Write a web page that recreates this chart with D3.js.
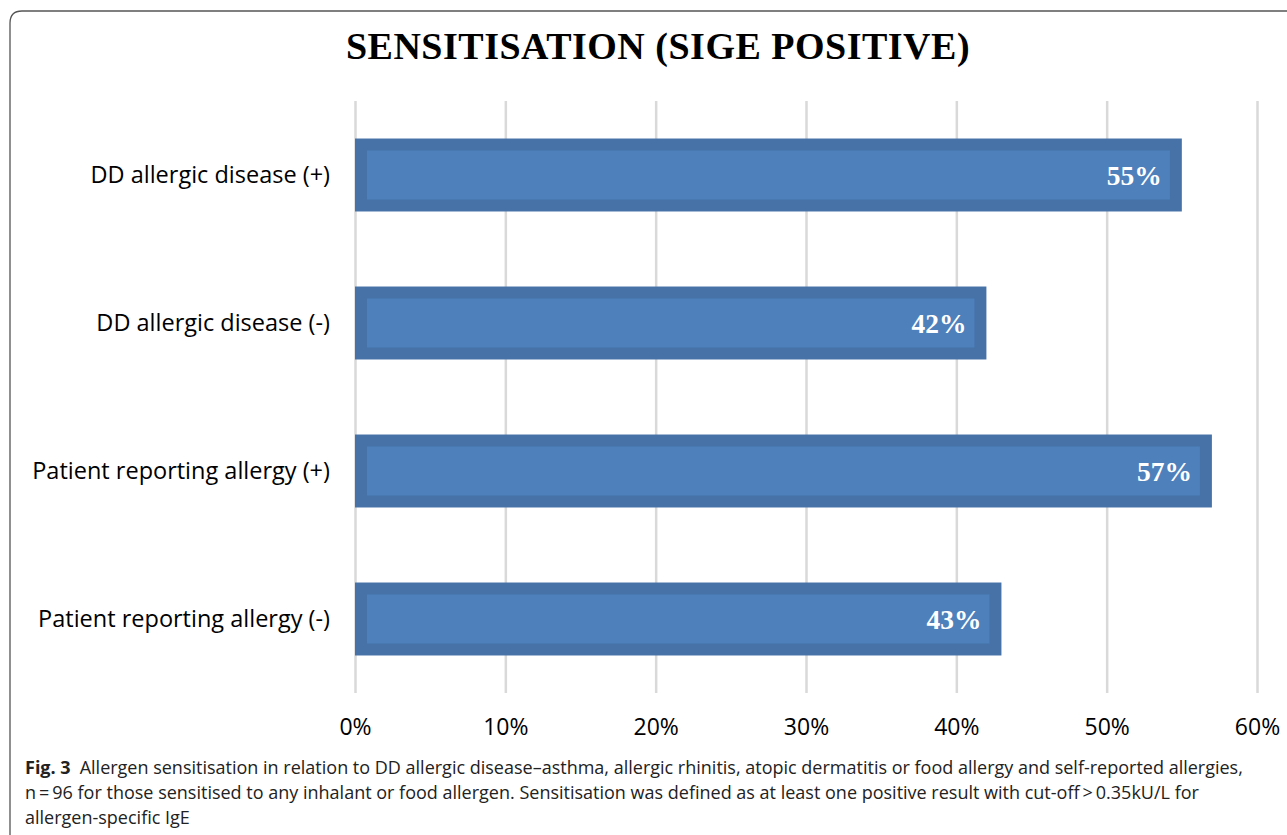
<!DOCTYPE html>
<head>
<meta charset="utf-8">
<script src="https://d3js.org/d3.v7.min.js"></script>
<style>
  body { margin: 0; background: #fff; }
  .tick text { font-family: 'Open Sans', sans-serif; }
  .grid line { stroke: #d9d9d9; stroke-width: 2.5px; }
  .grid path { stroke-width: 0; }
</style>
</head>
<body>
<svg width="1287" height="835"></svg>
<script>
// data
var categories = ["DD allergic disease (+)", "DD allergic disease (-)", "Patient reporting allergy (+)", "Patient reporting allergy (-)"];
var values = [55, 42, 57, 43];
var xTicks = [0, 10, 20, 30, 40, 50, 60];
var captionLines = [
  "Allergen sensitisation in relation to DD allergic disease\u2013asthma, allergic rhinitis, atopic dermatitis or food allergy and self-reported allergies,",
  "n\u2009=\u200996 for those sensitised to any inhalant or food allergen. Sensitisation was defined as at least one positive result with cut-off\u2009>\u20090.35kU/L for",
  "allergen-specific IgE"
];

var svg = d3.select("svg");

// frame
svg.append("path")
    .attr("d", "M10,840 L10,23 Q10,11 22,11 L1300,11")
    .style("fill", "none")
    .style("stroke", "#555")
    .style("stroke-width", 1.3);

var margin = {top: 101, left: 355};
var width = 902, height = 592;

var g = svg.append("g")
    .attr("transform", "translate(" + margin.left + "," + margin.top + ")");

var x = d3.scaleLinear().domain([0, 60]).range([0, width]);
var y = d3.scaleBand().domain(categories).range([0, height]).paddingInner(0.507).paddingOuter(0.2535);

g.append("g")
    .attr("class", "grid")
    .call(d3.axisBottom(x).tickValues(xTicks).tickSize(height).tickFormat(""));

svg.append("text")
    .attr("x", 658)
    .attr("y", 59)
    .attr("text-anchor", "middle")
    .style("font-family", "'Liberation Serif', 'Times New Roman', serif")
    .style("font-weight", "bold")
    .style("font-size", "38px")
    .style("letter-spacing", "0.5px")
    .text("SENSITISATION (SIGE POSITIVE)");

var bar = g.selectAll(".bar")
    .data(values)
    .enter()
    .append("g")
    .attr("class", "bar");

bar.append("rect")
    .attr("x", 0)
    .attr("y", function(d, i) { return y(categories[i]); })
    .attr("width", function(d) { return x(d); })
    .attr("height", y.bandwidth())
    .style("fill", "#4672a8");

bar.append("rect")
    .attr("x", 12)
    .attr("y", function(d, i) { return y(categories[i]) + 12; })
    .attr("width", function(d) { return x(d) - 24; })
    .attr("height", y.bandwidth() - 24)
    .style("fill", "#4e80bb");

bar.append("text")
    .attr("x", function(d) { return x(d) - 20; })
    .attr("y", function(d, i) { return y(categories[i]) + y.bandwidth() / 2 + 10; })
    .attr("text-anchor", "end")
    .style("fill", "#fff")
    .style("font-family", "'Liberation Serif', 'Times New Roman', serif")
    .style("font-weight", "bold")
    .style("font-size", "27.5px")
    .text(function(d) { return d + "%"; });

// category labels
g.append("g")
    .call(d3.axisLeft(y).tickSize(0).tickPadding(25))
    .call(function(a) { a.select(".domain").remove(); })
    .selectAll("text")
    .style("font-size", "23.5px")
    .style("fill", "#000");

// x tick labels
g.append("g")
    .attr("transform", "translate(0," + height + ")")
    .call(d3.axisBottom(x).tickValues(xTicks).tickSize(0).tickPadding(26)
        .tickFormat(function(d) { return d + "%"; }))
    .call(function(a) { a.select(".domain").remove(); })
    .selectAll("text")
    .style("font-size", "23px")
    .style("fill", "#000");

// caption
var cap = svg.append("text")
    .style("font-family", "'Open Sans', sans-serif")
    .style("font-size", "18px")
    .style("fill", "#222");

captionLines.forEach(function(line, i) {
  var t = cap.append("tspan").attr("x", 25).attr("y", 774 + i * 25);
  if (i === 0) {
    t.append("tspan").style("font-weight", "bold").text("Fig. 3");
    t = cap.append("tspan").text("\u2002" + line);
  } else {
    t.text(line);
  }
});
</script>
</body>
